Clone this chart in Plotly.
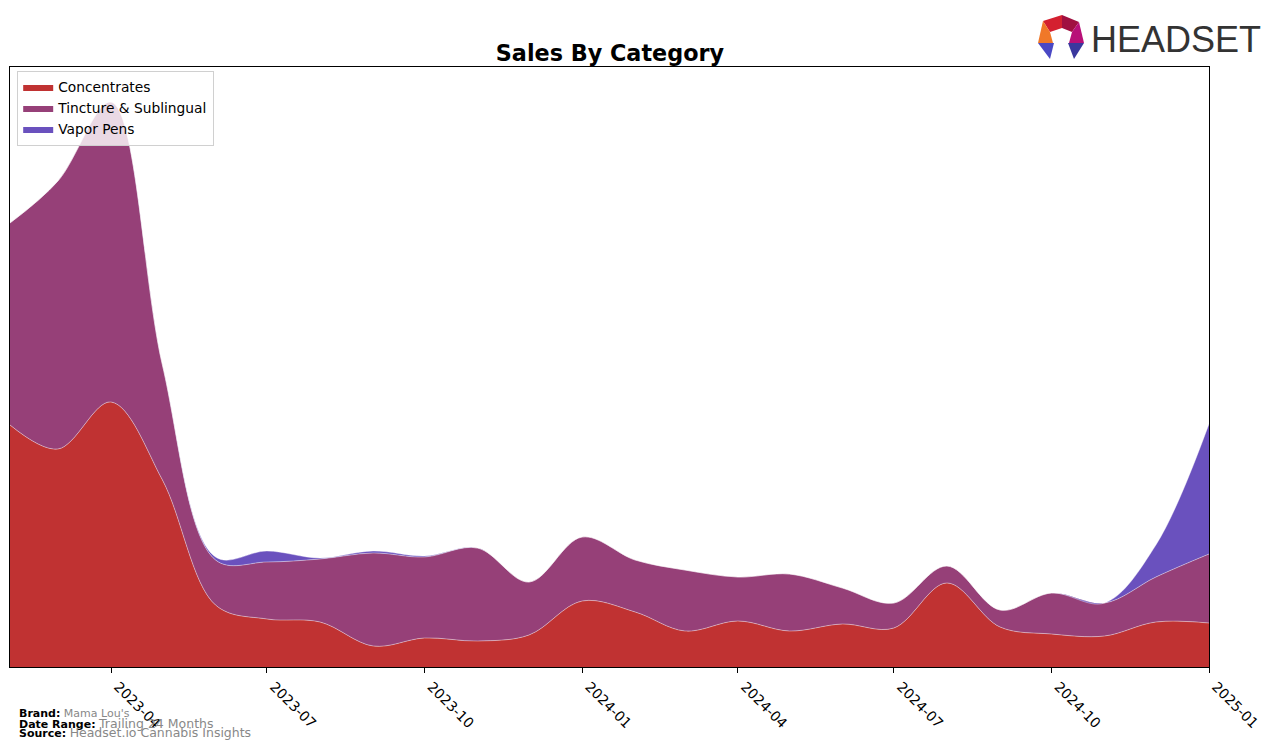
import plotly.graph_objects as go

months = ["2023-02-01", "2023-03-01", "2023-04-01", "2023-05-01", "2023-06-01", "2023-07-01",
          "2023-08-01", "2023-09-01", "2023-10-01", "2023-11-01", "2023-12-01", "2024-01-01",
          "2024-02-01", "2024-03-01", "2024-04-01", "2024-05-01", "2024-06-01", "2024-07-01",
          "2024-08-01", "2024-09-01", "2024-10-01", "2024-11-01", "2024-12-01", "2025-01-01"]

concentrates = [242, 218, 265, 187, 62, 48, 45, 21, 29, 26, 32, 66,
                55, 36, 46, 36, 43, 39, 84, 40, 33, 31, 45, 44]
tincture = [202, 268, 300, 115, 45, 57, 63, 93, 81, 93, 53, 64,
            52, 61, 44, 57, 36, 25, 17, 17, 41, 33, 45, 69]
vapor_pens = [0, 0, 0, 0, 3, 11, 1, 2, 1, 0, 0, 0,
              0, 0, 0, 0, 0, 0, 0, 0, 0, 0, 32, 130]

series = [("Concentrates", concentrates, "#C03232"),
          ("Tincture & Sublingual", tincture, "#964078"),
          ("Vapor Pens", vapor_pens, "#6A51BE")]

fig = go.Figure()
for name, vals, col in series:
    fig.add_trace(go.Scatter(
        x=months, y=vals, name=name, stackgroup="one", mode="lines", showlegend=False,
        line=dict(shape="spline", smoothing=1.0, width=0.8, color="rgba(255,255,255,0.5)"),
        fillcolor=col))
# legend patches
for name, vals, col in series:
    fig.add_trace(go.Scatter(x=[None], y=[None], name=name, mode="lines", fill="toself",
                             fillcolor=col, line=dict(width=0, color=col)))

fig.update_layout(
    width=1276, height=748,
    margin=dict(l=10, r=67, t=67, b=81, autoexpand=False),
    paper_bgcolor="white", plot_bgcolor="white",
    font=dict(family="DejaVu Sans", size=13, color="black"),
    title=dict(text="<b>Sales By Category</b>", x=0.478, xanchor="center", y=0.929, yanchor="middle",
               font=dict(size=22.3, color="black")),
    showlegend=True,
    legend=dict(x=0.006, y=0.994, xanchor="left", yanchor="top", bgcolor="rgba(255,255,255,0.8)",
                bordercolor="#d0d0d0", borderwidth=1, font=dict(size=13.8),
                traceorder="normal", tracegroupgap=0),
    xaxis=dict(type="date", range=["2023-02-01", "2025-01-01"], automargin=False,
               tickvals=["2023-04-01", "2023-07-01", "2023-10-01", "2024-01-01",
                         "2024-04-01", "2024-07-01", "2024-10-01", "2025-01-01"],
               ticktext=["2023-04", "2023-07", "2023-10", "2024-01",
                         "2024-04", "2024-07", "2024-10", "2025-01"],
               tickangle=45, ticks="outside", ticklen=5, tickcolor="black", ticklabelshift=7,
               showgrid=False, zeroline=False, showline=True, linecolor="black",
               linewidth=1, mirror=True, tickfont=dict(size=14)),
    yaxis=dict(range=[0, 600], showticklabels=False, ticks="", showgrid=False, automargin=False,
               zeroline=False, showline=True, linecolor="black", linewidth=1, mirror=True),
)


def px(x, y):
    # page pixels -> paper coords
    return (x - 10) / 1199, (667 - y) / 600


# footer
foot = [("Brand:", "Mama Lou's", 713, 11), ("Date Range:", "Trailing 24 Months", 723, 12.5),
        ("Source:", "Headset.io Cannabis Insights", 732, 12.5)]
for lab, val, yy, sz in foot:
    fx, fy = px(17, yy)
    fig.add_annotation(xref="paper", yref="paper", x=fx, y=fy, xanchor="left", yanchor="middle",
                       text="<b>" + lab + "</b> <span style='color:#888888;font-size:%spx'>%s</span>" % (sz, val),
                       showarrow=False, font=dict(size=11, color="black"))

# logo
lx, ly = px(1263, 39)
fig.add_annotation(xref="paper", yref="paper", x=lx, y=ly, xanchor="right", yanchor="middle",
                   text="HEADSET", showarrow=False,
                   font=dict(family="Liberation Sans", size=36, color="#333333"))
logo = [([(1043, 21), (1062, 15), (1062, 28), (1050, 32)], "#D42030"),
        ([(1062, 15), (1079, 22), (1072, 32), (1062, 28)], "#A01040"),
        ([(1043, 21), (1050, 32), (1053, 43), (1038, 43)], "#F07828"),
        ([(1079, 22), (1084, 43), (1069, 43), (1072, 32)], "#B81078"),
        ([(1038, 43), (1054, 43), (1050, 59)], "#4A48C4"),
        ([(1068, 43), (1084, 43), (1074, 59)], "#3A389E")]
for pts, c in logo:
    conv = [px(a, b) for a, b in pts]
    path = "M " + " L ".join("%.5f %.5f" % p for p in conv) + " Z"
    fig.add_shape(type="path", xref="paper", yref="paper", path=path, fillcolor=c, line_width=0)

fig.write_html("out.html", config={"displayModeBar": False},
               post_script="document.body.style.margin='0px';")
